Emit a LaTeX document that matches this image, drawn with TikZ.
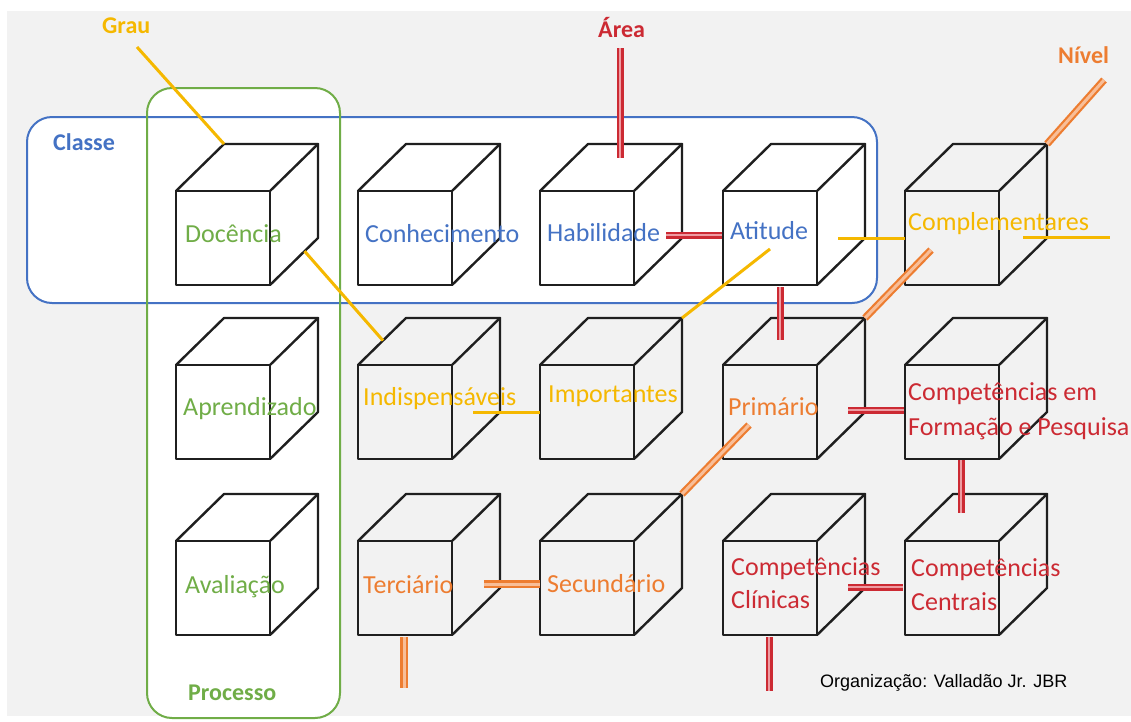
\documentclass[tikz,border=0pt]{standalone}
\usepackage{fontspec}
\setmainfont{Carlito}
\newfontfamily\creditfont{Liberation Sans}
\usetikzlibrary{calc}
\definecolor{bggray}{HTML}{F2F2F2}
\definecolor{cgreen}{HTML}{70AD47}
\definecolor{cblue}{HTML}{4472C4}
\definecolor{cyellow}{HTML}{F5B800}
\definecolor{corange}{HTML}{ED7D31}
\definecolor{cred}{HTML}{CC2A33}
\definecolor{cpink}{HTML}{EE9CA2}
\definecolor{cpeach}{HTML}{F8BE98}
\begin{document}
\begin{tikzpicture}[x=1pt,y=-1pt,
  cubeline/.style={line width=2.4pt, draw=black!88, line join=round, line cap=round},
  cubetext/.style={font=\fontsize{26}{34}\selectfont, anchor=base west, inner sep=0pt, align=left},
  axistitle/.style={font=\bfseries\fontsize{24}{28}\selectfont, anchor=base west, inner sep=0pt},
  gline/.style={draw=cyellow, line width=3pt},
  aline/.style={draw=cred, line width=2.3pt, double=cpink, double distance=2.4pt},
  nline/.style={draw=corange, line width=2.2pt, double=cpeach, double distance=3pt},
  groupbox/.style={rounded corners=25pt, line width=2pt},
  pics/cube/.style={code={
    \coordinate (-ftl) at (0,0);
    \coordinate (-ftr) at (94,0);
    \coordinate (-fbl) at (0,94);
    \coordinate (-fbr) at (94,94);
    \coordinate (-btl) at (48,-47);
    \coordinate (-btr) at (142,-47);
    \coordinate (-bbr) at (142,47);
    \draw[cubeline] (0,0) rectangle (94,94);
    \draw[cubeline] (0,0) -- (48,-47) -- (142,-47) -- (94,0);
    \draw[cubeline] (142,-47) -- (142,47) -- (94,94);
  }}
]
\useasboundingbox (0,0) rectangle (1131,721);
% page ground
\fill[white] (0,0) rectangle (1131,721);
\fill[bggray] (7,11) rectangle (1131,716);

% group frames: fills first, outlines on top
\fill[white, groupbox] (27,117) rectangle (877,303);
\fill[white, groupbox] (147,88) rectangle (340,718);
\draw[cblue, groupbox] (27,117) rectangle (877,303);
\draw[cgreen, groupbox] (147,88) rectangle (340,718);

% cubes: three rows, five columns
\pic (doc) at (176,191) {cube};
\pic (con) at (358,191) {cube};
\pic (hab) at (540,191) {cube};
\pic (ati) at (723,191) {cube};
\pic (com) at (905,191) {cube};
\pic (apr) at (176,365) {cube};
\pic (ind) at (358,365) {cube};
\pic (imp) at (540,365) {cube};
\pic (pri) at (723,365) {cube};
\pic (cfp) at (905,365) {cube};
\pic (ava) at (176,541) {cube};
\pic (ter) at (358,541) {cube};
\pic (sec) at (540,541) {cube};
\pic (ccl) at (723,541) {cube};
\pic (cce) at (905,541) {cube};

% axis titles
\node[axistitle, text=cyellow] (grau) at (102,33) {Grau};
\node[axistitle, text=cred] (area) at (598,37) {Área};
\node[axistitle, text=corange] (nivel) at (1058,63) {Nível};
\node[axistitle, text=cblue] (classe) at (53,150) {Classe};
\node[axistitle, text=cgreen] (processo) at (188,700) {Processo};

% free ends of the axis lines
\coordinate (grautail) at (137,47);
\coordinate (areatail) at (620,48);
\coordinate (niveltail) at (1104,80);
\coordinate (grauend) at ($(com-ftl)+(205,46)$);
\coordinate (areaend) at ($(ccl-ftl)+(46,150)$);
\coordinate (nivelend) at ($(ter-ftl)+(46,147)$);

% Grau (yellow)
\draw[gline] (grautail) -- (doc-btl);
\draw[gline] ($(doc-fbr)!0.72!(doc-bbr)$) -- ($(ind-ftl)!0.52!(ind-btl)$);
\draw[gline] ($(ind-ftl)+(115,47)$) -- ($(imp-ftl)+(0,47)$);
\draw[gline] (imp-btr) -- ($(ati-ftl)+(47,58)$);
\draw[gline] ($(ati-ftl)+(115,47)$) -- ($(com-ftl)+(0,47)$);
\draw[gline] ($(com-ftl)+(118,46)$) -- (grauend);

% Área (red)
\draw[aline] (areatail) -- ($(hab-ftl)+(80,-33)$);
\draw[aline] ($(hab-ftl)+(126,44)$) -- ($(ati-ftl)+(-1,44)$);
\draw[aline] ($(ati-ftl)+(57,96)$) -- ($(pri-ftl)+(57,-25)$);
\draw[aline] ($(pri-ftl)+(125,45)$) -- ($(cfp-ftl)+(-1,45)$);
\draw[aline] ($(cfp-ftl)+(56,95)$) -- ($(cce-ftl)+(56,-28)$);
\draw[aline] ($(ccl-ftl)+(125,46)$) -- ($(cce-ftl)+(-2,46)$);
\draw[aline] ($(ccl-ftl)+(46,96)$) -- (areaend);

% Nível (orange)
\draw[nline] (niveltail) -- (com-btr);
\draw[nline] ($(com-ftl)+(26,59)$) -- (pri-btr);
\draw[nline] ($(pri-ftl)+(26,60)$) -- (sec-btr);
\draw[nline] ($(ter-ftl)+(126,43)$) -- ($(sec-ftl)+(0,43)$);
\draw[nline] ($(ter-ftl)+(46,96)$) -- (nivelend);

% cube labels (two-line labels are placed by their last baseline)
\node[cubetext, text=cgreen] (tdoc) at (185,242) {Docência};
\node[cubetext, text=cblue] (tcon) at (365,242) {Conhecimento};
\node[cubetext, text=cblue] (thab) at (547,241) {Habilidade};
\node[cubetext, text=cblue] (tati) at (730,239) {Atitude};
\node[cubetext, text=cyellow] (tcom) at (908,230) {Complementares};
\node[cubetext, text=cgreen] (tapr) at (183,415) {Aprendizado};
\node[cubetext, text=cyellow] (tind) at (363,405) {Indispensáveis};
\node[cubetext, text=cyellow] (timp) at (548,402) {Importantes};
\node[cubetext, text=corange] (tpri) at (728,415) {Primário};
\node[cubetext, text=cred, font=\fontsize{26}{35}\selectfont] (tcfp) at (908,435) {Competências em\\Formação e Pesquisa};
\node[cubetext, text=cgreen] (tava) at (185,593) {Avaliação};
\node[cubetext, text=corange] (tter) at (363,593) {Terciário};
\node[cubetext, text=corange] (tsec) at (547,592) {Secundário};
\node[cubetext, text=cred, font=\fontsize{26}{33}\selectfont] (tccl) at (731,608) {Competências\\Clínicas};
\node[cubetext, text=cred] (tcce) at (911,610) {Competências\\Centrais};

% credit line
\node[anchor=base west, inner sep=0pt, font=\creditfont\fontsize{18}{20}\selectfont] (credit) at (820,687) {Organização: Valladão Jr. JBR};
\end{tikzpicture}
\end{document}
